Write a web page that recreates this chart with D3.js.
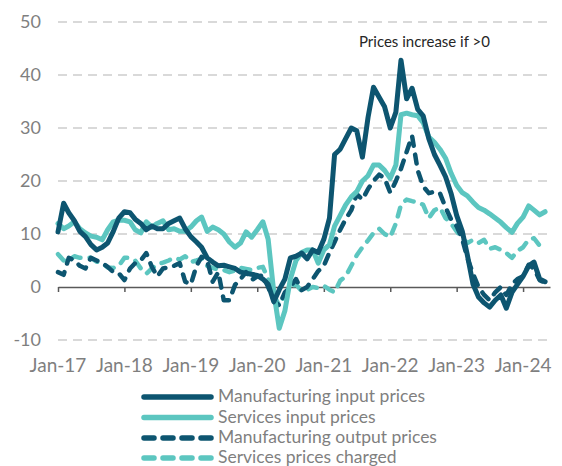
<!DOCTYPE html>
<html>
<head>
<meta charset="utf-8">
<script src="https://cdn.jsdelivr.net/npm/d3@7"></script>
<style>
  html, body { margin: 0; padding: 0; background: #fff; }
  svg { display: block; }
</style>
</head>
<body>
<svg id="chart" width="562" height="466"></svg>
<script>
// ---- Data (monthly, Jan-17 .. May-24) ----
const startMonth = "2017-01";
const yTicks = [-10, 0, 10, 20, 30, 40, 50];
const seriesNames = [
  "Manufacturing input prices",
  "Services input prices",
  "Manufacturing output prices",
  "Services prices charged"
];
const manufacturingInput = [
  10.4, 15.8, 14, 12.5, 10.5, 9.5, 8, 7, 7.5, 8.3, 10.5, 13,
  14.2, 14, 12.8, 12, 10.8, 11.5, 11, 11, 12, 12.5, 13, 11,
  9.5, 8.5, 7.5, 5.5, 4.7, 4, 4.1, 3.8, 3.5, 2.8, 2.6, 2.4,
  2.2, 1.5, 0.5, -2.8, -0.5, 1.5, 5.5, 5.8, 6.4, 5.3, 7, 6.5,
  9, 13, 25, 26, 28, 30, 29.5, 24.5, 32, 37.7, 35.8, 34,
  30, 33, 42.8, 35.5, 37.5, 33.5, 32.3, 28, 25, 23, 20.8, 17.7,
  13.5, 10.5, 6, 0.5, -1.9, -3, -3.8, -2.5, -1.5, -4, -1, 0.5,
  2, 4, 4.7, 1.5, 1
];
const servicesInput = [
  12, 11, 11.5, 12.3, 11, 10.2, 9.6, 9.4, 8.9, 10.8, 12.3, 12.6,
  12.6, 12.3, 10.8, 10.2, 12.3, 11.3, 12, 12.5, 10.8, 11, 10.5, 10.5,
  11.3, 12.5, 13.2, 10.5, 11.3, 10.8, 10, 8.5, 7.5, 8.3, 10.4, 9.4,
  10.8, 12.3, 9, -1, -7.8, -4.5, 1.5, 5, 6.5, 7, 7, 4.5,
  7, 8, 11.5, 13.5, 15.5, 17, 18, 20, 21, 23, 23, 22,
  20.5, 23, 32.5, 32.8, 32.5, 32.3, 31, 28.3, 27.3, 26, 24.3, 21.5,
  19.2, 17.8, 17.2, 16, 15, 14.5, 13.8, 13, 12.2, 11.2, 10.3, 12,
  13.2, 15.3, 14.5, 13.6, 14.2
];
const manufacturingOutput = [
  2.8, 2.3, 5.5, 5, 4, 3.5, 5.5, 5, 4.5, 3.8, 2.8, 2.6,
  1.3, 3.5, 4.5, 5, 6.4, 3.8, 2, 3.5, 3.7, 4, 4.5, 1,
  0.5, 4, 5.7, 5, 1, 2.8, -2.5, -2.5, 0.4, 1.5, 2.8, 1.3,
  2, 2.2, 0, -2.5, -3.5, -1, 0, 1.5, -0.6, 0, 1.5, 3,
  4, 6.5, 8.5, 10.8, 12.8, 14.5, 17.5, 16.5, 18.5, 20, 21.2, 20.5,
  17.8, 20, 22.3, 25.5, 28.5, 22, 19, 17.7, 18, 17.7, 15, 12.8,
  11.5, 9, 5.5, 2.5, 0, -1.5, -2.5, -1, 0, -1.5, 0.5, 1.5,
  2, 4.2, 3.5, 1.3, 0.8
];
const servicesCharged = [
  6.2, 5, 5, 5.8, 5.5, 5.5, 5.5, 4.8, 4.5, 3.7, 3.6, 4,
  5.5, 5.5, 5, 3.5, 2.5, 3.5, 4.3, 4.6, 5, 5.5, 5.2, 5.8,
  4.7, 5, 5.3, 4, 3.6, 3.3, 3.2, 2.8, 3.1, 3.6, 3.4, 3.2,
  3.6, 3.8, 1.5, -1.5, -3.5, -1.5, 0, 0.5, -0.8, -0.5, 0, -0.2,
  0.2, -0.5, -1, 1.2, 2, 4, 6, 7.5, 8.8, 10.2, 11, 10,
  9.4, 12, 15.5, 16.5, 16.2, 16, 15.5, 13, 14.5, 15, 13, 12,
  10.5, 9.2, 8.3, 8.9, 8.3, 8.9, 7.2, 7.5, 7, 6.4, 5.5, 6.8,
  7.5, 9, 9.2, 7.8, 7.2
];
const annotation = "Prices increase if >0";

// ---- Styles ----
const darkTeal = "#0d5570";
const lightTeal = "#5cc6c0";
const styles = [
  { color: darkTeal, width: 5, dash: null },
  { color: lightTeal, width: 5, dash: null },
  { color: darkTeal, width: 4.5, dash: "9,9" },
  { color: lightTeal, width: 4.5, dash: "9,9" }
];
const allSeries = [manufacturingInput, servicesInput, manufacturingOutput, servicesCharged];

const parseMonth = d3.timeParse("%Y-%m");
const t0 = parseMonth(startMonth);
const dates = manufacturingInput.map((_, i) => d3.timeMonth.offset(t0, i));

const svg = d3.select("#chart");
const x = d3.scaleTime()
  .domain([t0, new Date(2024, 4, 28)])
  .range([58, 550]);
const y = d3.scaleLinear().domain([-10, 50]).range([340, 22]);

const font = "Lato, 'Open Sans', sans-serif";

// Gridlines
svg.append("g").selectAll("line")
  .data(yTicks.filter(v => v !== 0))
  .join("line")
  .attr("x1", 58).attr("x2", 552)
  .attr("y1", d => y(d)).attr("y2", d => y(d))
  .attr("stroke", "#d9d9d9")
  .attr("stroke-width", 2)
  .attr("stroke-dasharray", "9,6");

// Y labels
svg.append("g").selectAll("text")
  .data(yTicks)
  .join("text")
  .attr("x", 41)
  .attr("y", d => y(d))
  .attr("dy", "0.35em")
  .attr("text-anchor", "end")
  .attr("font-family", font)
  .attr("font-size", 18)
  .attr("fill", "#7f7f7f")
  .text(d => d);

// X axis at zero
const xAxis = d3.axisBottom(x)
  .ticks(d3.timeYear.every(1))
  .tickFormat(d3.timeFormat("%b-%y"))
  .tickSize(5)
  .tickSizeOuter(0);
const gx = svg.append("g")
  .attr("transform", `translate(0,${y(0)})`)
  .call(xAxis);
gx.select(".domain").attr("stroke", "#595959").attr("stroke-width", 1.5);
gx.selectAll(".tick line").attr("stroke", "#595959").attr("stroke-width", 1.5);
gx.selectAll(".tick text").remove();

// X labels at bottom
svg.append("g").selectAll("text")
  .data(x.ticks(d3.timeYear.every(1)))
  .join("text")
  .attr("x", d => x(d))
  .attr("y", 372)
  .attr("text-anchor", "middle")
  .attr("font-family", font)
  .attr("font-size", 19)
  .attr("fill", "#7f7f7f")
  .text(d => d3.timeFormat("%b-%y")(d));

// Lines
const line = d3.line()
  .x((d, i) => x(dates[i]))
  .y(d => y(d))
  .curve(d3.curveLinear);

const drawOrder = [3, 2, 1, 0];
drawOrder.forEach(k => {
  const s = styles[k];
  svg.append("path")
    .datum(allSeries[k])
    .attr("d", line)
    .attr("fill", "none")
    .attr("stroke", s.color)
    .attr("stroke-width", s.width)
    .attr("stroke-linejoin", "round")
    .attr("stroke-linecap", "round")
    .attr("stroke-dasharray", s.dash);
});

// Annotation
svg.append("text")
  .attr("x", 359)
  .attr("y", 47)
  .attr("font-family", font)
  .attr("font-size", 15)
  .attr("fill", "#262626")
  .text(annotation);

// Legend
const legendY = [396, 416.5, 437, 457];
const lg = svg.append("g");
seriesNames.forEach((name, k) => {
  const s = styles[k];
  lg.append("line")
    .attr("x1", 144).attr("x2", 211)
    .attr("y1", legendY[k] + 1).attr("y2", legendY[k] + 1)
    .attr("stroke", s.color)
    .attr("stroke-width", 5.5)
    .attr("stroke-linecap", "round")
    .attr("stroke-dasharray", s.dash ? "10,9" : null);
  lg.append("text")
    .attr("x", 218)
    .attr("y", legendY[k])
    .attr("dy", "0.35em")
    .attr("font-family", font)
    .attr("font-size", 17.5)
    .attr("fill", "#7f7f7f")
    .text(name);
});
</script>
</body>
</html>
